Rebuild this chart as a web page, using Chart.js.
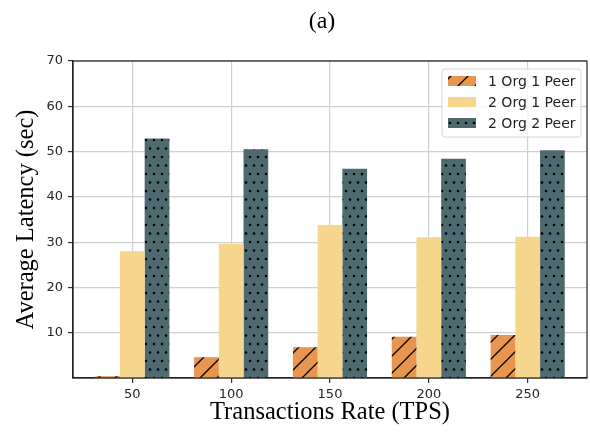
<!DOCTYPE html>
<html>
<head>
<meta charset="utf-8">
<script src="https://cdn.jsdelivr.net/npm/chart.js@4.4.1/dist/chart.umd.min.js"></script>
<style>
html, body { margin: 0; padding: 0; background: #fff; }
</style>
</head>
<body>
<canvas id="latencyChart" width="590" height="433"></canvas>
<script>
// data
var chartTitle = '(a)';
var rates = ['50', '100', '150', '200', '250'];
var seriesNames = ['1 Org 1 Peer', '2 Org 1 Peer', '2 Org 2 Peer'];
var org1peer1 = [0.4, 4.6, 6.8, 9.1, 9.5];
var org2peer1 = [28.0, 29.6, 33.8, 31.1, 31.2];
var org2peer2 = [52.9, 50.5, 46.2, 48.4, 50.3];
var yTicks = [10, 20, 30, 40, 50, 60, 70];

var canvas = document.getElementById('latencyChart');
var ctx = canvas.getContext('2d');

// hatch '/' on orange
function hatchPattern(color) {
    var c = document.createElement('canvas');
    c.width = 17; c.height = 17;
    var x = c.getContext('2d');
    x.fillStyle = color;
    x.fillRect(0, 0, 17, 17);
    x.strokeStyle = '#000';
    x.lineWidth = 1.3;
    x.beginPath();
    x.moveTo(-2, 19); x.lineTo(19, -2);
    x.moveTo(-2, 2); x.lineTo(2, -2);
    x.moveTo(15, 19); x.lineTo(19, 15);
    x.stroke();
    return ctx.createPattern(c, 'repeat');
}

// staggered dots on teal
function dotPattern(color) {
    var c = document.createElement('canvas');
    c.width = 8; c.height = 17;
    var x = c.getContext('2d');
    x.fillStyle = color;
    x.fillRect(0, 0, 8, 17);
    x.fillStyle = '#000';
    [[2, 4], [6, 12.5]].forEach(function(p) {
        x.beginPath();
        x.arc(p[0], p[1], 1.3, 0, Math.PI * 2);
        x.fill();
    });
    return ctx.createPattern(c, 'repeat');
}

function toPoints(arr) {
    return arr.map(function(v, i) { return { x: i, y: v }; });
}

var tickFont = { family: 'DejaVu Sans', size: 13 };
var titleFont = { family: 'Liberation Serif', size: 24.5 };

// frame, title and the in-plot legend
var overlay = {
    id: 'overlay',
    afterDraw: function(chart) {
        var c = chart.ctx, a = chart.chartArea;
        c.save();
        c.strokeStyle = '#222';
        c.lineWidth = 1.2;
        c.strokeRect(a.left, a.top, a.right - a.left, a.bottom - a.top);

        c.fillStyle = '#000';
        c.font = '24px "Liberation Serif"';
        c.textAlign = 'center';
        c.textBaseline = 'middle';
        c.fillText(chartTitle, (a.left + a.right) / 2 - 8, 22);

        var bw = 139, bh = 68, bx = a.right - 6 - bw, by = a.top + 8;
        c.beginPath();
        c.roundRect(bx, by, bw, bh, 3);
        c.fillStyle = 'rgba(255,255,255,0.8)';
        c.fill();
        c.strokeStyle = '#d6d6d6';
        c.lineWidth = 1;
        c.stroke();

        c.font = '14px "DejaVu Sans"';
        c.textAlign = 'left';
        chart.data.datasets.forEach(function(ds, i) {
            var cy = by + 12 + i * 21;
            c.fillStyle = ds.backgroundColor;
            c.fillRect(bx + 6, cy - 5, 28, 10);
            c.fillStyle = '#222';
            c.fillText(ds.label, bx + 46, cy + 1);
        });
        c.restore();
    }
};

new Chart(canvas, {
    type: 'bar',
    data: {
        datasets: [{
            label: seriesNames[0],
            data: toPoints(org1peer1),
            backgroundColor: hatchPattern('#e8964f')
        }, {
            label: seriesNames[1],
            data: toPoints(org2peer1),
            backgroundColor: '#f6d58d'
        }, {
            label: seriesNames[2],
            data: toPoints(org2peer2),
            backgroundColor: dotPattern('#4e6a71')
        }]
    },
    options: {
        responsive: false,
        animation: false,
        layout: { padding: { top: 61, right: 3, left: 0, bottom: 0 } },
        datasets: {
            bar: { categoryPercentage: 0.75, barPercentage: 1, borderWidth: 0 }
        },
        plugins: {
            legend: { display: false },
            title: { display: false },
            tooltip: { enabled: false }
        },
        scales: {
            x: {
                type: 'linear',
                min: -0.6,
                max: 4.6,
                offset: false,
                z: 1,
                afterBuildTicks: function(s) {
                    s.ticks = rates.map(function(r, i) { return { value: i }; });
                },
                afterFit: function(s) { s.height = 55; },
                ticks: {
                    callback: function(v) { return rates[v]; },
                    font: tickFont,
                    color: '#262626',
                    padding: 4,
                    maxRotation: 0,
                    autoSkip: false
                },
                grid: { offset: false, color: '#cfcfcf', lineWidth: 1.2, tickLength: 5, tickColor: '#333' },
                border: { color: '#222', width: 1.2 },
                title: {
                    display: true,
                    text: 'Transactions Rate (TPS)',
                    font: titleFont,
                    color: '#000',
                    padding: { top: 0, bottom: 6 }
                }
            },
            y: {
                min: 0,
                max: 70,
                z: 1,
                afterBuildTicks: function(s) {
                    s.ticks = yTicks.map(function(v) { return { value: v }; });
                },
                afterFit: function(s) { s.width = 73; },
                ticks: { font: tickFont, color: '#262626', padding: 5 },
                grid: { color: '#cfcfcf', lineWidth: 1.2, tickLength: 5, tickColor: '#333' },
                border: { color: '#222', width: 1.2 },
                title: {
                    display: true,
                    text: 'Average Latency (sec)',
                    font: titleFont,
                    color: '#000',
                    padding: { top: 12, bottom: 0 }
                }
            }
        }
    },
    plugins: [overlay]
});
</script>
</body>
</html>
